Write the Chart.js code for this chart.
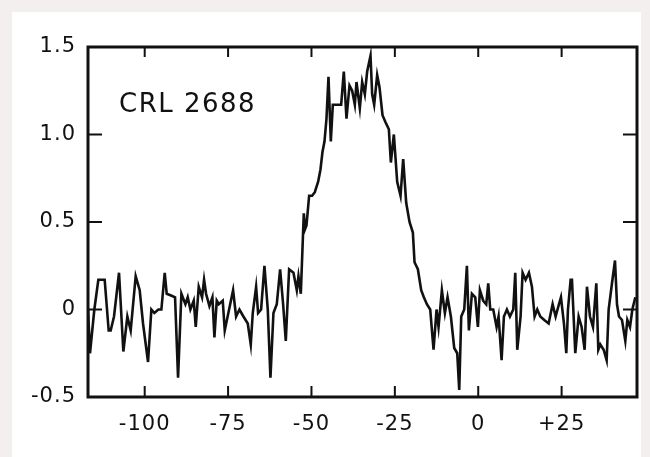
<!DOCTYPE html>
<html>
<head>
<meta charset="utf-8">
<script src="https://cdn.jsdelivr.net/npm/chart.js@4/dist/chart.umd.min.js"></script>
<style>
body{margin:0;background:#f3efef;}
#marco{position:absolute;left:12px;top:12px;width:629px;height:445px;background:#fff;}
#caja{position:absolute;left:0;top:0;width:650px;height:457px;}
</style>
</head>
<body>
<div id="marco"></div>
<div id="caja"><canvas id="grafica" width="650" height="457"></canvas></div>
<script>
// espectro leido a ojo de la figura (km/s, K)
const velocidad = [
  -117.0,-116.4,-115.1,-113.9,-112.0,-110.8,-110.2,-109.2,-107.7,-106.4,
  -105.2,-104.2,-102.7,-101.5,-100.5,-99.0,-98.0,-97.1,-95.9,-95.0,
  -94.0,-93.4,-92.1,-90.9,-90.0,-89.0,-87.8,-87.1,-86.3,-85.3,
  -84.7,-83.8,-82.8,-82.2,-81.6,-80.6,-79.7,-79.1,-78.4,-77.8,
  -76.6,-76.0,-74.7,-73.5,-72.6,-71.6,-70.4,-69.1,-68.2,-67.6,
  -66.6,-66.0,-65.1,-64.1,-63.1,-62.3,-61.4,-60.4,-59.4,-58.5,
  -57.7,-56.7,-55.4,-54.4,-53.9,-53.2,-52.3,-51.9,-51.5,-50.7,
  -49.8,-49.0,-48.0,-47.3,-46.7,-46.1,-45.5,-44.9,-44.2,-43.6,
  -43.0,-42.0,-41.1,-40.3,-39.5,-38.6,-37.8,-37.0,-36.5,-35.5,
  -34.8,-34.0,-33.3,-32.3,-31.8,-31.2,-30.3,-29.6,-28.7,-27.8,
  -26.8,-26.2,-25.3,-24.3,-23.3,-22.5,-21.6,-20.6,-19.6,-19.1,
  -18.1,-17.1,-16.3,-15.4,-14.4,-13.4,-12.5,-11.9,-10.9,-10.0,
  -9.2,-8.2,-7.2,-6.3,-5.7,-5.1,-4.2,-3.4,-2.8,-1.9,
  -0.9,-0.1,0.5,1.5,2.4,3.0,3.6,4.5,5.5,6.1,
  7.0,7.7,8.6,9.5,10.5,11.1,11.7,12.7,13.3,14.2,
  15.2,16.1,16.9,17.7,18.6,19.8,21.1,22.3,23.2,24.2,
  24.8,25.7,26.4,26.9,27.7,28.1,29.1,30.1,31.0,31.9,
  32.6,33.5,34.4,35.4,36.0,36.6,37.6,38.5,39.1,40.1,
  41.0,41.6,42.2,43.1,44.1,44.7,45.5,46.2,47.1
];
const temperatura = [
  0.00,-0.25,0.00,0.17,0.17,-0.12,-0.12,-0.04,0.21,-0.24,
  -0.04,-0.12,0.19,0.11,-0.08,-0.30,0.00,-0.02,0.00,0.00,
  0.21,0.09,0.08,0.07,-0.39,0.09,0.03,0.07,0.00,0.05,
  -0.10,0.13,0.07,0.17,0.09,0.02,0.07,-0.16,0.05,0.03,
  0.05,-0.12,0.00,0.11,-0.04,0.00,-0.04,-0.08,-0.20,-0.02,
  0.13,-0.02,0.00,0.25,0.00,-0.39,-0.02,0.03,0.23,0.03,
  -0.18,0.23,0.21,0.11,0.19,0.09,0.55,0.46,0.48,0.65,
  0.65,0.67,0.73,0.80,0.90,0.96,1.09,1.33,0.96,1.17,
  1.17,1.17,1.17,1.36,1.09,1.28,1.25,1.17,1.30,1.15,
  1.30,1.23,1.36,1.45,1.23,1.17,1.34,1.27,1.11,1.07,
  1.03,0.84,1.00,0.73,0.65,0.86,0.61,0.50,0.44,0.27,
  0.23,0.11,0.07,0.03,0.00,-0.23,0.00,-0.10,0.11,-0.02,
  0.07,-0.04,-0.22,-0.25,-0.46,-0.04,0.00,0.25,-0.12,0.09,
  0.07,-0.10,0.11,0.05,0.03,0.15,0.00,0.00,-0.10,-0.04,
  -0.29,-0.04,0.00,-0.04,0.00,0.21,-0.23,-0.04,0.21,0.17,
  0.21,0.13,-0.04,0.00,-0.04,-0.06,-0.08,0.03,-0.04,0.03,
  0.07,-0.08,-0.25,0.00,0.17,0.17,-0.25,-0.04,-0.10,-0.23,
  0.13,-0.04,-0.10,0.15,-0.23,-0.20,-0.23,-0.29,0.00,0.15,
  0.28,0.03,-0.04,-0.06,-0.18,-0.06,-0.10,0.00,0.07
];

const ticksX = [-100,-75,-50,-25,0,25];
const etiquetasX = ['-100','-75','-50','-25','0','+25'];
const ticksY = [-0.5,0,0.5,1.0,1.5];
const etiquetasY = ['-0.5','0','0.5','1.0','1.5'];
const titulo = 'CRL 2688';

const fuente = {family:'"DejaVu Sans", sans-serif', size:21};

// letras un poco mas separadas, como en la figura
const espaciado = {
  id:'espaciado',
  beforeDraw(chart){
    if ('letterSpacing' in chart.ctx) chart.ctx.letterSpacing = '1px';
  }
};

// marco y ticks hacia dentro
const marcoPlugin = {
  id:'marco',
  afterDatasetsDraw(chart){
    const {ctx, chartArea:a, scales:{x,y}} = chart;
    ctx.save();
    ctx.strokeStyle='#111';
    ctx.lineWidth=3;
    ctx.strokeRect(a.left,a.top,a.right-a.left,a.bottom-a.top);
    ctx.lineWidth=2;
    ctx.beginPath();
    ticksX.forEach(v=>{
      const px=x.getPixelForValue(v);
      ctx.moveTo(px,a.bottom); ctx.lineTo(px,a.bottom-11);
      ctx.moveTo(px,a.top); ctx.lineTo(px,a.top+10);
    });
    ticksY.forEach(v=>{
      const py=y.getPixelForValue(v);
      ctx.moveTo(a.left,py); ctx.lineTo(a.left+14,py);
      ctx.moveTo(a.right,py); ctx.lineTo(a.right-14,py);
    });
    ctx.stroke();
    ctx.fillStyle='#111';
    ctx.font='26px "DejaVu Sans", sans-serif';
    if ('letterSpacing' in ctx) ctx.letterSpacing='1.5px';
    ctx.textBaseline='alphabetic';
    ctx.fillText(titulo, 119, 112);
    ctx.restore();
  }
};

const ctx1 = document.getElementById('grafica');
new Chart(ctx1, {
  type:'line',
  data:{
    datasets:[{
      data: velocidad.map((v,i)=>({x:v, y:temperatura[i]})),
      borderColor:'#111',
      borderWidth:2.6,
      borderJoinStyle:'miter',
      pointRadius:0,
      tension:0,
      fill:false
    }]
  },
  options:{
    responsive:false,
    animation:false,
    devicePixelRatio:1,
    layout:{padding:{top:47,right:13,left:0,bottom:0}},
    plugins:{legend:{display:false}, tooltip:{enabled:false}},
    scales:{
      x:{
        type:'linear', min:-117, max:47.6,
        afterBuildTicks: s => { s.ticks = ticksX.map(v=>({value:v})); },
        afterFit: s => { s.height = 60; },
        grid:{display:false, drawTicks:false},
        border:{display:false},
        ticks:{
          font:fuente, color:'#111', padding:15, maxRotation:0,
          callback: v => etiquetasX[ticksX.indexOf(v)]
        }
      },
      y:{
        type:'linear', min:-0.5, max:1.5,
        afterBuildTicks: s => { s.ticks = ticksY.map(v=>({value:v})); },
        afterFit: s => { s.width = 88; },
        grid:{display:false, drawTicks:false},
        border:{display:false},
        ticks:{
          font:fuente, color:'#111', padding:12,
          callback: v => etiquetasY[ticksY.indexOf(v)]
        }
      }
    }
  },
  plugins:[espaciado, marcoPlugin]
});
</script>
</body>
</html>
